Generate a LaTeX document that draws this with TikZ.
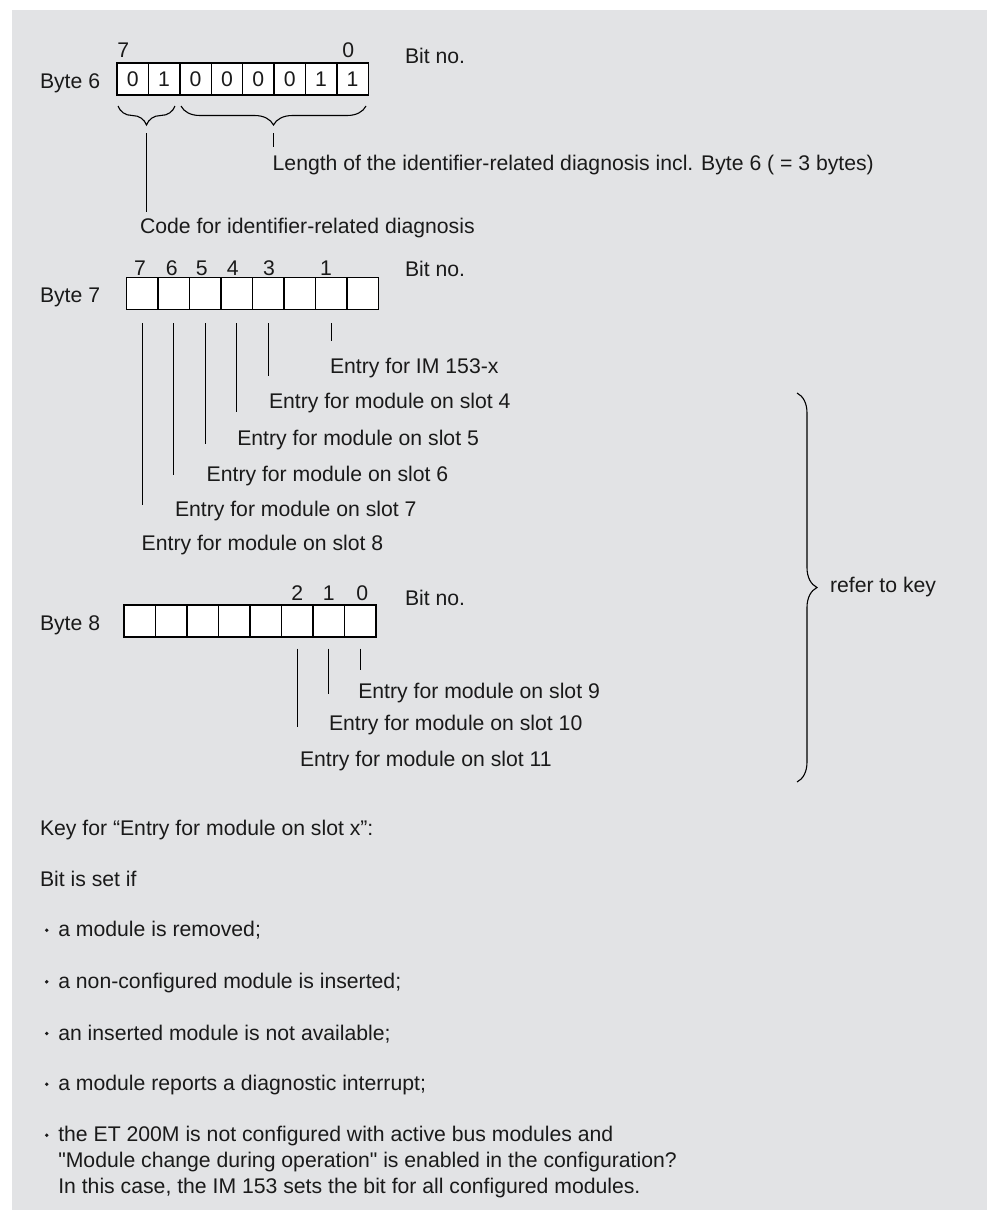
\documentclass[tikz,border=0pt]{standalone}
\usepackage{fontspec}
\setmainfont{Liberation Sans}[Ligatures=TeXOff]
\usetikzlibrary{decorations.pathreplacing,calc}
\definecolor{bgc}{HTML}{E2E3E5}
\definecolor{txt}{HTML}{1A1A1A}
\begin{document}
\begin{tikzpicture}[x=1pt,y=-1pt,
  every node/.style={inner sep=0pt, outer sep=0pt, text=txt, font=\fontsize{21.2}{25.8}\selectfont},
  lbl/.style={anchor=base west},
  num/.style={anchor=base},
  cell/.style={draw=black, line width=1.4pt, fill=white, minimum width=31.45pt, minimum height=32pt, anchor=north west},
  lead/.style={line width=1.2pt, draw=black},
  brcdown/.style={decorate, decoration={brace, mirror, amplitude=19pt}, line width=1.1pt},
  brcright/.style={decorate, decoration={brace, amplitude=20pt}, line width=1.1pt},
  bul/.style={fill=txt}
]
\useasboundingbox (0,0) rectangle (987,1210);
\fill[white] (0,0) rectangle (987,1210);
\fill[bgc] (12,10) rectangle (987,1210);

% ---------- Byte 6 ----------
\node[lbl] (b6) at (40,88.3) {Byte 6};
\foreach \i/\v in {0/0,1/1,2/0,3/0,4/0,5/0,6/1,7/1}
  \node[cell, minimum width=31.4pt] (b6c\i) at ({117+\i*31.4},63) {\v};
\draw[line width=2.6pt] (b6c2.north west) -- (b6c2.south west);
\node[num] (b6h7) at (123.3,57) {7};
\node[num] (b6h0) at (348.3,57) {0};
\node[lbl] (b6bit) at (405,63.3) {Bit no.};

\coordinate (br1a) at (118,106);
\coordinate (br1b) at (175,106);
\coordinate (br2a) at (181,106);
\coordinate (br2b) at (366,106);
\draw[brcdown] (br1a) -- (br1b);
\draw[brcdown] (br2a) -- (br2b);

\node[lbl] (len) at (272.7,170) {Length of the identifier-related diagnosis incl. Byte 6 ( = 3 bytes)};
\node[lbl] (code) at (140,233.3) {Code for identifier-related diagnosis};
\coordinate (t1) at (146.5,133);
\coordinate (t1e) at (146.5,212);
\coordinate (t2) at (273.5,133);
\coordinate (t2e) at (273.5,147);
\draw[lead] (t1) -- (t1e);
\draw[lead] (t2) -- (t2e);

% ---------- Byte 7 ----------
\node[lbl] (b7) at (40,302) {Byte 7};
\foreach \i in {0,...,7}
  \node[cell] (b7c\i) at ({126.7+\i*31.45},277.3) {};
\foreach \n/\x in {7/140,6/171.7,5/201.7,4/232.7,3/269,1/326}
  \node[num] (b7h\n) at (\x,275) {\n};
\node[lbl] (b7bit) at (405,276) {Bit no.};
\foreach \c/\e in {6/340.7,4/376,3/411.7,2/444,1/475,0/505}
  \draw[lead] ([yshift=-14pt]b7c\c.south) -- (b7c\c.south |- 0,\e);

\node[lbl] (e1) at (330,373.3) {Entry for IM 153-x};
\node[lbl] (e4) at (269,408.3) {Entry for module on slot 4};
\node[lbl] (e5) at (237.3,445) {Entry for module on slot 5};
\node[lbl] (e6) at (206.7,481.7) {Entry for module on slot 6};
\node[lbl] (e7) at (175,516) {Entry for module on slot 7};
\node[lbl] (e8) at (141.7,550) {Entry for module on slot 8};

% ---------- Byte 8 ----------
\node[lbl] (b8) at (40,630) {Byte 8};
\foreach \i in {0,...,7}
  \node[cell] (b8c\i) at ({124+\i*31.5},605) {};
\foreach \n/\x in {2/297.3,1/328.7,0/362.3}
  \node[num] (b8h\n) at (\x,600) {\n};
\node[lbl] (b8bit) at (405,605) {Bit no.};
\foreach \c/\e in {5/727.3,6/694.3,7/670}
  \draw[lead] ([yshift=-11.6pt]b8c\c.south) -- (b8c\c.south |- 0,\e);

\node[lbl] (e9) at (358.3,698.3) {Entry for module on slot 9};
\node[lbl] (e10) at (329,730) {Entry for module on slot 10};
\node[lbl] (e11) at (300,766) {Entry for module on slot 11};

% ---------- Right brace ----------
\coordinate (rb1) at (797,393);
\coordinate (rb2) at (797,782);
\draw[brcright] (rb1) -- (rb2);
\node[lbl] (ref) at (830,592.7) {refer to key};

% ---------- Key ----------
\node[lbl] (key) at (40,835) {Key for “Entry for module on slot x”:};
\node[lbl] (bset) at (40,886) {Bit is set if};
\node[lbl] (k1) at (58.3,936.7) {a module is removed;};
\node[lbl] (k2) at (58.3,988.3) {a non-configured module is inserted;};
\node[lbl] (k3) at (58.3,1040) {an inserted module is not available;};
\node[lbl] (k4) at (58.3,1090.7) {a module reports a diagnostic interrupt;};
\node[anchor=north west, align=left] (k5) at (58.3,1126.2)
  {the ET 200M is not configured with active bus modules and\\
   "Module change during operation" is enabled in the configuration?\\
   In this case, the IM 153 sets the bit for all configured modules.};
\foreach \b in {936.7,988.3,1040,1090.7,1141.7}
  \fill[bul] (46.7,\b-6.5) circle (1.9pt);
\end{tikzpicture}
\end{document}
